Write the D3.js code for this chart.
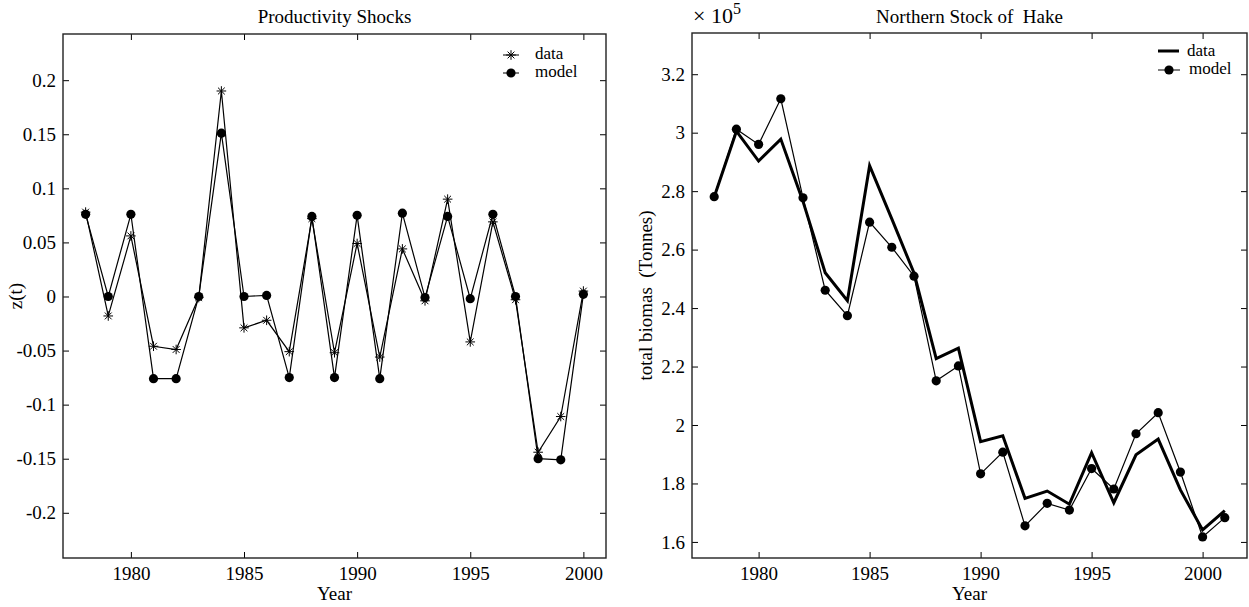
<!DOCTYPE html>
<html>
<head>
<meta charset="utf-8">
<script src="https://cdn.jsdelivr.net/npm/d3@7"></script>
<style>
  body { margin: 0; background: #fff; }
  text { font-family: "Liberation Serif", "Times New Roman", serif; fill: #000; }
</style>
</head>
<body>
<div id="chart"></div>
<script>

// productivity shocks, 1978-2000
var shockYears = d3.range(1978, 2001);
var shockData = [0.078, -0.018, 0.056, -0.046, -0.049, -0.001, 0.190, -0.029, -0.022, -0.051,
  0.072, -0.052, 0.049, -0.056, 0.044, -0.004, 0.090, -0.042, 0.069, -0.003, -0.144, -0.111, 0.005];
var shockModel = [0.076, 0.000, 0.076, -0.076, -0.076, 0.000, 0.151, 0.000, 0.001, -0.075,
  0.074, -0.075, 0.075, -0.076, 0.077, -0.001, 0.074, -0.002, 0.076, 0.000, -0.150, -0.151, 0.002];

// northern hake biomass (tonnes), 1978-2001
var hakeYears = d3.range(1978, 2002);
var hakeData = [278000, 300500, 290300, 297800, 276500, 252100, 242500, 288700, 270500, 252000,
  222700, 226300, 194300, 196300, 174900, 177400, 172900, 190500, 173400, 189800, 195200, 177800, 164100, 170700];
var hakeModel = [278100, 301200, 296000, 311600, 277700, 246100, 237400, 269400, 260800, 250900,
  215100, 220200, 183300, 190700, 165500, 173200, 170900, 185100, 178100, 197000, 204200, 183900, 161700, 168300];

var yearTicks = [1980, 1985, 1990, 1995, 2000];
var shockTicks = [-0.2, -0.15, -0.1, -0.05, 0, 0.05, 0.1, 0.15, 0.2];
var hakeTicks = [160000, 180000, 200000, 220000, 240000, 260000, 280000, 300000, 320000];

var svg = d3.select("#chart").append("svg")
  .attr("width", 1249)
  .attr("height", 607);

var fontSize = 19;
var legendSize = 17;

// draws the box, inward ticks on all four sides and the labels
function drawFrame(g, x, y, yTicks, yFormat, w, h) {
  g.append("g")
    .attr("transform", `translate(0, ${h})`)
    .call(d3.axisBottom(x).tickValues(yearTicks).tickSize(-6).tickPadding(9).tickFormat(d3.format("d")));
  g.append("g")
    .call(d3.axisTop(x).tickValues(yearTicks).tickSize(-6).tickFormat(""));
  g.append("g")
    .call(d3.axisLeft(y).tickValues(yTicks).tickSize(-6).tickPadding(7).tickFormat(yFormat));
  g.append("g")
    .attr("transform", `translate(${w}, 0)`)
    .call(d3.axisRight(y).tickValues(yTicks).tickSize(-6).tickFormat(""));

  g.selectAll(".domain").remove();
  g.selectAll(".tick line").attr("stroke", "#000").attr("stroke-width", 1);
  g.selectAll(".tick text")
    .attr("font-size", fontSize + "px")
    .attr("font-family", "Liberation Serif, serif");

  g.append("rect")
    .attr("width", w)
    .attr("height", h)
    .attr("fill", "none")
    .attr("stroke", "#222")
    .attr("stroke-width", 1.4);

  g.append("text")
    .attr("x", w / 2)
    .attr("y", h + 42)
    .attr("text-anchor", "middle")
    .attr("font-size", fontSize + "px")
    .text("Year");
}

function star(g, cx, cy, r) {
  var p = "";
  [0, 45, 90, 135].forEach(function(a) {
    var dx = r * Math.cos(a * Math.PI / 180), dy = r * Math.sin(a * Math.PI / 180);
    p += `M${cx - dx},${cy - dy}L${cx + dx},${cy + dy}`;
  });
  g.append("path").attr("d", p).attr("stroke", "#000").attr("stroke-width", 1).attr("fill", "none");
}

// ---------- left: productivity shocks ----------
var m1 = {left: 63, top: 34};
var w1 = 606 - 63, h1 = 558 - 34;
var g1 = svg.append("g").attr("transform", `translate(${m1.left}, ${m1.top})`);

var x1 = d3.scaleLinear().domain([1977, 2001]).range([0, w1]);
var y1 = d3.scaleLinear().domain([-0.2418, 0.2427]).range([h1, 0]);

drawFrame(g1, x1, y1, shockTicks, d => String(+d.toFixed(2)), w1, h1);

var line1 = d3.line().x((d, i) => x1(shockYears[i])).y(d => y1(d));

g1.append("path").datum(shockData)
  .attr("d", line1).attr("fill", "none").attr("stroke", "#000").attr("stroke-width", 1.2);
g1.append("path").datum(shockModel)
  .attr("d", line1).attr("fill", "none").attr("stroke", "#000").attr("stroke-width", 1.2);

shockData.forEach(function(d, i) { star(g1, x1(shockYears[i]), y1(d), 4.8); });

g1.selectAll("circle.model")
  .data(shockModel)
  .enter()
  .append("circle")
  .attr("class", "model")
  .attr("cx", (d, i) => x1(shockYears[i]))
  .attr("cy", d => y1(d))
  .attr("r", 4.6)
  .attr("fill", "#000");

g1.append("text")
  .attr("x", w1 / 2)
  .attr("y", 23 - m1.top)
  .attr("text-anchor", "middle")
  .attr("font-size", fontSize + "px")
  .text("Productivity Shocks");

svg.append("text")
  .attr("transform", `translate(22, ${m1.top + h1 / 2}) rotate(-90)`)
  .attr("text-anchor", "middle")
  .attr("font-size", fontSize + "px")
  .text("z(t)");

// legend
var lg1 = g1.append("g").attr("transform", `translate(${503 - m1.left}, ${55 - m1.top})`);
lg1.append("line").attr("x1", 0).attr("x2", 16).attr("y1", 0).attr("y2", 0).attr("stroke", "#000");
star(lg1, 8, 0, 4.8);
lg1.append("text").attr("x", 32).attr("y", 4).attr("font-size", legendSize + "px").text("data");
lg1.append("line").attr("x1", 0).attr("x2", 16).attr("y1", 18).attr("y2", 18).attr("stroke", "#000");
lg1.append("circle").attr("cx", 8).attr("cy", 18).attr("r", 4.6).attr("fill", "#000");
lg1.append("text").attr("x", 32).attr("y", 22).attr("font-size", legendSize + "px").text("model");

// ---------- right: northern stock of hake ----------
var m2 = {left: 692, top: 33};
var w2 = 1247 - 692, h2 = 558 - 33;
var g2 = svg.append("g").attr("transform", `translate(${m2.left}, ${m2.top})`);

var x2 = d3.scaleLinear().domain([1977, 2002]).range([0, w2]);
var y2 = d3.scaleLinear().domain([154500, 334100]).range([h2, 0]);

drawFrame(g2, x2, y2, hakeTicks, d => String(+(d / 1e5).toFixed(1)), w2, h2);

var line2 = d3.line().x((d, i) => x2(hakeYears[i])).y(d => y2(d));

g2.append("path").datum(hakeData)
  .attr("d", line2).attr("fill", "none").attr("stroke", "#000").attr("stroke-width", 3);
g2.append("path").datum(hakeModel)
  .attr("d", line2).attr("fill", "none").attr("stroke", "#000").attr("stroke-width", 1.2);

g2.selectAll("circle.model")
  .data(hakeModel)
  .enter()
  .append("circle")
  .attr("class", "model")
  .attr("cx", (d, i) => x2(hakeYears[i]))
  .attr("cy", d => y2(d))
  .attr("r", 4.6)
  .attr("fill", "#000");

g2.append("text")
  .attr("x", w2 / 2)
  .attr("y", 23 - m2.top)
  .attr("text-anchor", "middle")
  .attr("font-size", fontSize + "px")
  .attr("xml:space", "preserve")
  .text("Northern Stock of  Hake");

var expo = svg.append("text")
  .attr("x", 693)
  .attr("y", 23)
  .attr("font-size", "22px");
expo.append("tspan").text("\u00d7 10");
expo.append("tspan").attr("dy", -9).attr("font-size", "16px").text("5");

svg.append("text")
  .attr("transform", `translate(652, ${m2.top + h2 / 2}) rotate(-90)`)
  .attr("text-anchor", "middle")
  .attr("font-size", fontSize + "px")
  .attr("xml:space", "preserve")
  .text("total biomas  (Tonnes)");

var lg2 = g2.append("g").attr("transform", `translate(${1158 - m2.left}, ${51 - m2.top})`);
lg2.append("line").attr("x1", 0).attr("x2", 21).attr("y1", 0).attr("y2", 0).attr("stroke", "#000").attr("stroke-width", 3);
lg2.append("text").attr("x", 29).attr("y", 5).attr("font-size", legendSize + "px").text("data");
lg2.append("line").attr("x1", 0).attr("x2", 22).attr("y1", 19).attr("y2", 19).attr("stroke", "#000");
lg2.append("circle").attr("cx", 11).attr("cy", 19).attr("r", 4.6).attr("fill", "#000");
lg2.append("text").attr("x", 31).attr("y", 23).attr("font-size", legendSize + "px").text("model");

</script>
</body>
</html>
